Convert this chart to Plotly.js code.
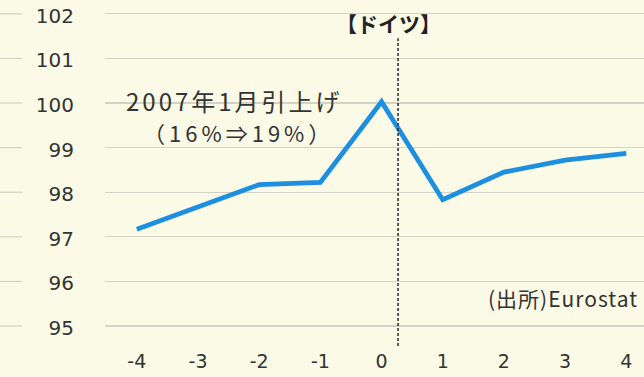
<!DOCTYPE html>
<html>
<head>
<meta charset="utf-8">
<script src="https://cdn.plot.ly/plotly-3.0.1.min.js"></script>
<style>
html,body{margin:0;padding:0;background:#fbfae6;}
g.annotation[data-index="1"] text { letter-spacing: 3px; }
g.annotation[data-index="2"] text { letter-spacing: 4px; }
g.annotation[data-index="3"] text { letter-spacing: 1px; }
</style>
</head>
<body>
<div id="chart" style="width:644px;height:377px;"></div>
<script>
// Data (months relative to VAT hike, index)
const months = [-4, -3, -2, -1, 0, 1, 2, 3, 4];
const germanyIndex = [97.17, 97.68, 98.17, 98.22, 100.03, 97.83, 98.45, 98.72, 98.87];
const yTicks = [95, 96, 97, 98, 99, 100, 101, 102];
const xTicks = [-4, -3, -2, -1, 0, 1, 2, 3, 4];
const hikeMarkX = 0.27;

const bg = '#fbfae6';
const gridColor = '#d2d2c6';
const textColor = '#333333';
const plotLeft = 105, W = 644;
const plotW = W - plotLeft;

const shapes = [];
// gridline stubs left of the tick labels
yTicks.forEach(v => {
  shapes.push({type:'line', xref:'paper', yref:'y', x0:-plotLeft/plotW, x1:-(plotLeft-22)/plotW, y0:v, y1:v,
    line:{color:gridColor, width:1.2}});
});
// vertical dashed line at hike
shapes.push({type:'line', xref:'x', yref:'y', x0:hikeMarkX, x1:hikeMarkX, y0:94.55, y1:101.45,
  line:{color:'#333', width:1.6, dash:'3px,2px'}});

const annotations = [
  {text:'【ドイツ】', xref:'x', yref:'paper', x:0.12, y:1.0, yshift:-6, yanchor:'top', showarrow:false,
    font:{family:'Noto Sans CJK JP', size:21, color:'#222', weight:700}},
  {text:'2007年1月引上げ', xref:'x', yref:'y', x:-2.41, y:100.05, showarrow:false,
    font:{family:'Noto Sans CJK JP', size:24, color:'#333'}},
  {text:'（16%⇒19%）', xref:'x', yref:'y', x:-2.33, y:99.35, showarrow:false,
    font:{family:'Noto Sans CJK JP', size:22, color:'#333'}},
  {text:'(出所)Eurostat', xref:'paper', yref:'y', x:(492-plotLeft)/plotW, y:95.62, xanchor:'left', showarrow:false,
    font:{family:'Noto Sans CJK JP', size:21, color:'#333'}}
];

const trace = {
  x: months, y: germanyIndex, type:'scatter', mode:'lines',
  line:{color:'#1d8fe1', width:4.8}, hoverinfo:'skip'
};

const layout = {
  width:644, height:377,
  margin:{l:plotLeft, r:0, t:0, b:30},
  paper_bgcolor:bg, plot_bgcolor:bg,
  showlegend:false,
  xaxis:{range:[-4.52, 4.29], tickvals:xTicks, ticktext:xTicks.map(String), showgrid:false, zeroline:false,
    showline:false, ticks:'', tickfont:{family:'DejaVu Sans', size:19, color:textColor}, ticklabelstandoff:1},
  yaxis:{range:[94.53, 102.31], tickvals:yTicks, ticktext:yTicks.map(String), showgrid:true, gridcolor:gridColor, gridwidth:1.2,
    zeroline:false, showline:false, ticks:'', tickfont:{family:'DejaVu Sans', size:20, color:textColor},
    ticklabelstandoff:30, ticklabelshift:2},
  shapes:shapes, annotations:annotations
};

Plotly.newPlot('chart', [trace], layout, {staticPlot:true, displayModeBar:false});
</script>
</body>
</html>
